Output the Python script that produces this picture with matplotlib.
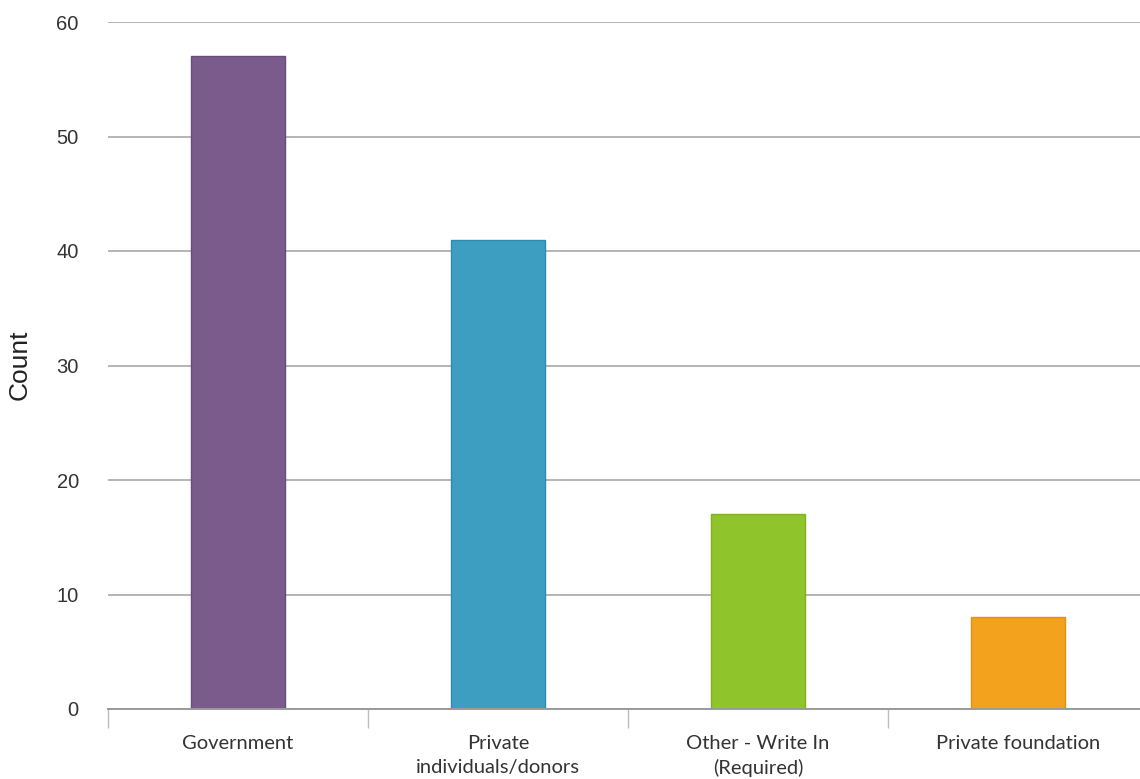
import matplotlib.pyplot as plt
import numpy as np

plt.rcParams["font.family"] = ["Lato", "DejaVu Sans"]

categories = ["Government", "Private\nindividuals/donors", "Other - Write In\n(Required)", "Private foundation"]
counts = [57, 41, 17, 8]
colors = ["#7a5b8c", "#3d9ec1", "#8fc52a", "#f2a21c"]
edges = ["#6a4c7c", "#3189ab", "#7fb21f", "#e09214"]
yticks = [0, 10, 20, 30, 40, 50, 60]

fig = plt.figure(figsize=(11.4, 7.79), dpi=100)
ax = fig.add_axes([108 / 1140, 70 / 779, 1040 / 1140, 687 / 779])

x = np.arange(len(categories))
ax.bar(x, counts, width=0.36, color=colors, edgecolor=edges, linewidth=1, zorder=3)

ax.set_xlim(-0.5, len(categories) - 0.5)
ax.set_ylim(0, 60)
ax.set_yticks(yticks)
ax.set_yticklabels([str(v) for v in yticks], family=["Liberation Sans", "DejaVu Sans"])
ax.yaxis.grid(True, color="#b4b4b4", linewidth=1.4, zorder=0)
ax.tick_params(axis="y", length=0, pad=21, labelsize=14.5, labelcolor="#333333")

ax.set_xticks(x)
ax.set_xticklabels(categories, fontsize=14.5, color="#333333", va="top", linespacing=1.45)
ax.tick_params(axis="x", which="major", length=0, pad=19)
ax.set_xticks(np.arange(-0.5, len(categories), 1.0), minor=True)
ax.tick_params(axis="x", which="minor", length=14, width=1, color="#bdbdbd")

for side in ["left", "right", "top"]:
    ax.spines[side].set_visible(False)
ax.spines["bottom"].set_color("#9a9a9a")
ax.spines["bottom"].set_linewidth(1.4)
ax.spines["bottom"].set_zorder(4)

fig.text(20 / 1140, (779 - 365) / 779, "Count", rotation=90, ha="center", va="center",
         fontsize=19, color="#222222", family=["Liberation Sans", "DejaVu Sans"])

fig.savefig("out.png", dpi=100, facecolor="white")
